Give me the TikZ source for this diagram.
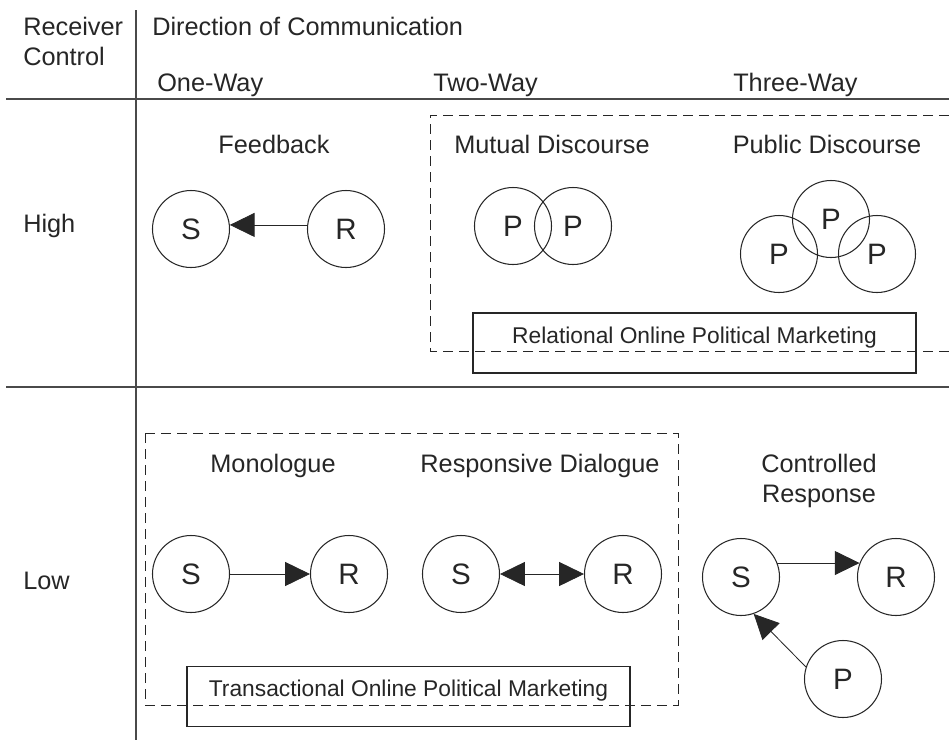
\documentclass[tikz,border=0pt]{standalone}
\usepackage{fontspec}
\setmainfont{Liberation Sans}
\usepackage{xcolor}
\usepackage{tikz}
\usetikzlibrary{arrows.meta, positioning}

\definecolor{ink}{HTML}{262626}
\definecolor{rulegray}{HTML}{4A4A4A}

\begin{document}
\begin{tikzpicture}[
  x=0.25mm, y=-0.25mm,
  txt/.style={anchor=base, inner sep=0pt, text=ink, font=\fontsize{18}{21}\selectfont},
  actor/.style={draw=ink, circle, line width=0.75pt, minimum size=19.25mm, inner sep=0pt,
    text=ink, font=\fontsize{21}{24}\selectfont},
  mbox/.style={draw=ink, line width=0.75pt, minimum width=110.75mm, minimum height=15mm,
    text height=2mm, text depth=2mm, text=ink, font=\fontsize{16.2}{19}\selectfont},
  zone/.style={draw=ink, line width=0.6pt, dash pattern=on 2.5mm off 1.5mm},
  rule/.style={draw=rulegray, line width=1pt},
  arrow/.style={draw=ink, line width=0.6pt, -{Triangle[length=6.2mm,width=6mm]}},
  dualarrow/.style={draw=ink, line width=0.6pt,
    {Triangle[length=6.2mm,width=6mm]}-{Triangle[length=6.2mm,width=6mm]}}
]
\useasboundingbox (0,0) rectangle (949,740);

% Grid
\draw[rule] (136,10) -- (136,740);
\draw[rule] (6,99) -- (949,99);
\draw[rule] (6,387) -- (949,387);

% Headings
\node[txt, anchor=base west] (recv) at (23,35) {Receiver};
\node[txt, anchor=base west] (ctrl) at (23,65) {Control};
\node[txt, anchor=base west] (dir) at (152,35) {Direction of Communication};
\node[txt, anchor=base west] (oneway) at (157,91) {One-Way};
\node[txt, anchor=base west] (twoway) at (433,91) {Two-Way};
\node[txt, anchor=base west] (threeway) at (733,91) {Three-Way};
\node[txt, anchor=base west] (high) at (23,232) {High};
\node[txt, anchor=base west] (low) at (23,589) {Low};

% Dashed groupings
\draw[zone] (949,115) -- (430,115) -- (430,351) -- (949,351);
\draw[zone] (145,433) rectangle (678,705);

% High control
\node[txt] (feedback) at (274,153) {Feedback};
\node[actor] (fbS) at (191,229) {S};
\node[actor] (fbR) at (346,229) {R};

\node[txt] (mutual) at (552,153) {Mutual Discourse};
\node[actor] (mdP1) at (513,226) {P};
\node[actor] (mdP2) at (573,226) {P};

\node[txt] (public) at (827,153) {Public Discourse};
\node[actor] (pdP1) at (831,219) {P};
\node[actor] (pdP2) at (779,254) {P};
\node[actor] (pdP3) at (877,254) {P};

\node[mbox] (relbox) at (694.5,343) {Relational Online Political Marketing};

% Low control
\node[txt] (monologue) at (273,472) {Monologue};
\node[actor] (moS) at (191,574) {S};
\node[actor] (moR) at (349,574) {R};

\node[txt] (respdial) at (540,472) {Responsive Dialogue};
\node[actor] (rdS) at (461,574) {S};
\node[actor] (rdR) at (623,574) {R};

\node[txt] (ctrlA) at (819,472) {Controlled};
\node[txt] (ctrlB) at (819,502) {Response};
\node[actor] (crS) at (741,577) {S};
\node[actor] (crR) at (896,577) {R};
\node[actor] (crP) at (843,679) {P};

\node[mbox] (trbox) at (408.5,696.5) {Transactional Online Political Marketing};

% Pointers
\draw[arrow] (fbR.174) -- (fbS.6);
\draw[arrow] (moS) -- (moR);
\draw[dualarrow] (rdS) -- (rdR);
\draw[arrow] (crS.21) -- (crR.159);
\draw[arrow] (crP.162) -- (crS.-71);
\end{tikzpicture}
\end{document}
